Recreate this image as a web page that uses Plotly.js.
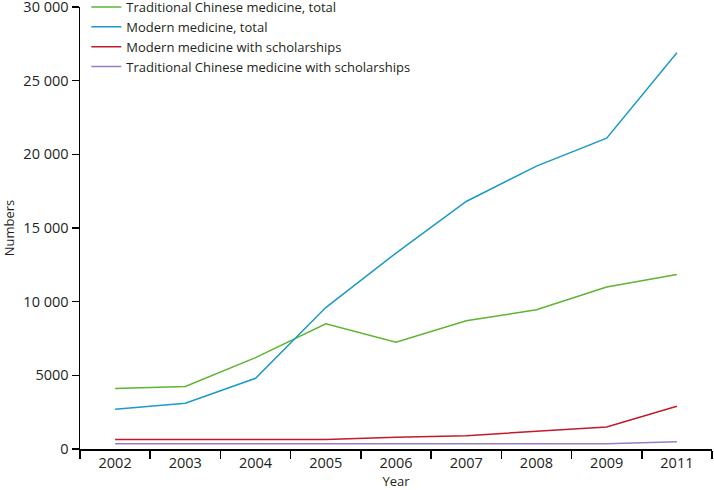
<!DOCTYPE html>
<html>
<head>
<meta charset="utf-8">
<script src="https://cdn.plot.ly/plotly-3.0.1.min.js"></script>
<style>
  html, body { margin: 0; padding: 0; background: #ffffff; }
  #chart { width: 714px; height: 490px; }
</style>
</head>
<body>
<div id="chart"></div>
<script>
// categories (no 2010 in the source)
var years = ['2002', '2003', '2004', '2005', '2006', '2007', '2008', '2009', '2011'];

// series values
var tcmTotal = [4100, 4250, 6200, 8500, 7250, 8700, 9450, 11000, 11850];
var modernTotal = [2700, 3100, 4800, 9600, 13300, 16800, 19200, 21100, 26900];
var modernScholar = [650, 650, 650, 650, 800, 900, 1200, 1500, 2900];
var tcmScholar = [350, 350, 350, 350, 350, 350, 350, 350, 500];

// y tick labels
var yTickVals = [0, 5000, 10000, 15000, 20000, 25000, 30000];
var yTickText = ['0', '5000', '10 000', '15 000', '20 000', '25 000', '30 000'];

var font = "'Open Sans', 'Noto Sans', sans-serif";

// one trace per series
function makeTrace(name, values, colour) {
  return {
    type: 'scatter',
    mode: 'lines',
    name: name,
    x: years,
    y: values,
    line: {color: colour, width: 1.5}
  };
}

var traces = [
  makeTrace('Traditional Chinese medicine, total', tcmTotal, '#5db530'),
  makeTrace('Modern medicine, total', modernTotal, '#1b9ac6'),
  makeTrace('Modern medicine with scholarships', modernScholar, '#c21a2c'),
  makeTrace('Traditional Chinese medicine with scholarships', tcmScholar, '#9a7cc6')
];

var layout = {
  width: 714,
  height: 490,
  // keep the margins fixed so the legend can sit over the top edge
  margin: {l: 80, r: 2, t: 7, b: 41, autoexpand: false},
  paper_bgcolor: '#ffffff',
  plot_bgcolor: '#ffffff',
  font: {family: font, size: 13, color: '#231f20'},
  showlegend: true,
  legend: {
    x: 0.01,
    y: 1.034,
    xanchor: 'left',
    yanchor: 'top',
    bgcolor: 'rgba(0,0,0,0)',
    font: {family: font, size: 13, color: '#231f20'},
    tracegroupgap: 0
  },
  xaxis: {
    type: 'category',
    range: [-0.5, 8.5],
    tickson: 'boundaries',
    ticks: 'outside',
    ticklen: 8,
    tickwidth: 1.5,
    tickcolor: '#000000',
    tickfont: {family: font, size: 14.5},
    showline: true,
    linecolor: '#000000',
    linewidth: 1.5,
    showgrid: false,
    zeroline: false,
    fixedrange: true,
    title: {text: 'Year', font: {family: font, size: 13}, standoff: 2}
  },
  yaxis: {
    range: [0, 30000],
    tickvals: yTickVals,
    ticktext: yTickText,
    ticklabeloverflow: 'allow',
    ticks: 'outside',
    ticklen: 7,
    tickwidth: 1.5,
    tickcolor: '#000000',
    tickfont: {family: font, size: 14.5},
    showline: true,
    linecolor: '#000000',
    linewidth: 1.5,
    showgrid: false,
    zeroline: false,
    fixedrange: true,
    title: {text: 'Numbers', font: {family: font, size: 13}, standoff: 12}
  }
};

Plotly.newPlot('chart', traces, layout, {displayModeBar: false, staticPlot: true});
</script>
</body>
</html>
